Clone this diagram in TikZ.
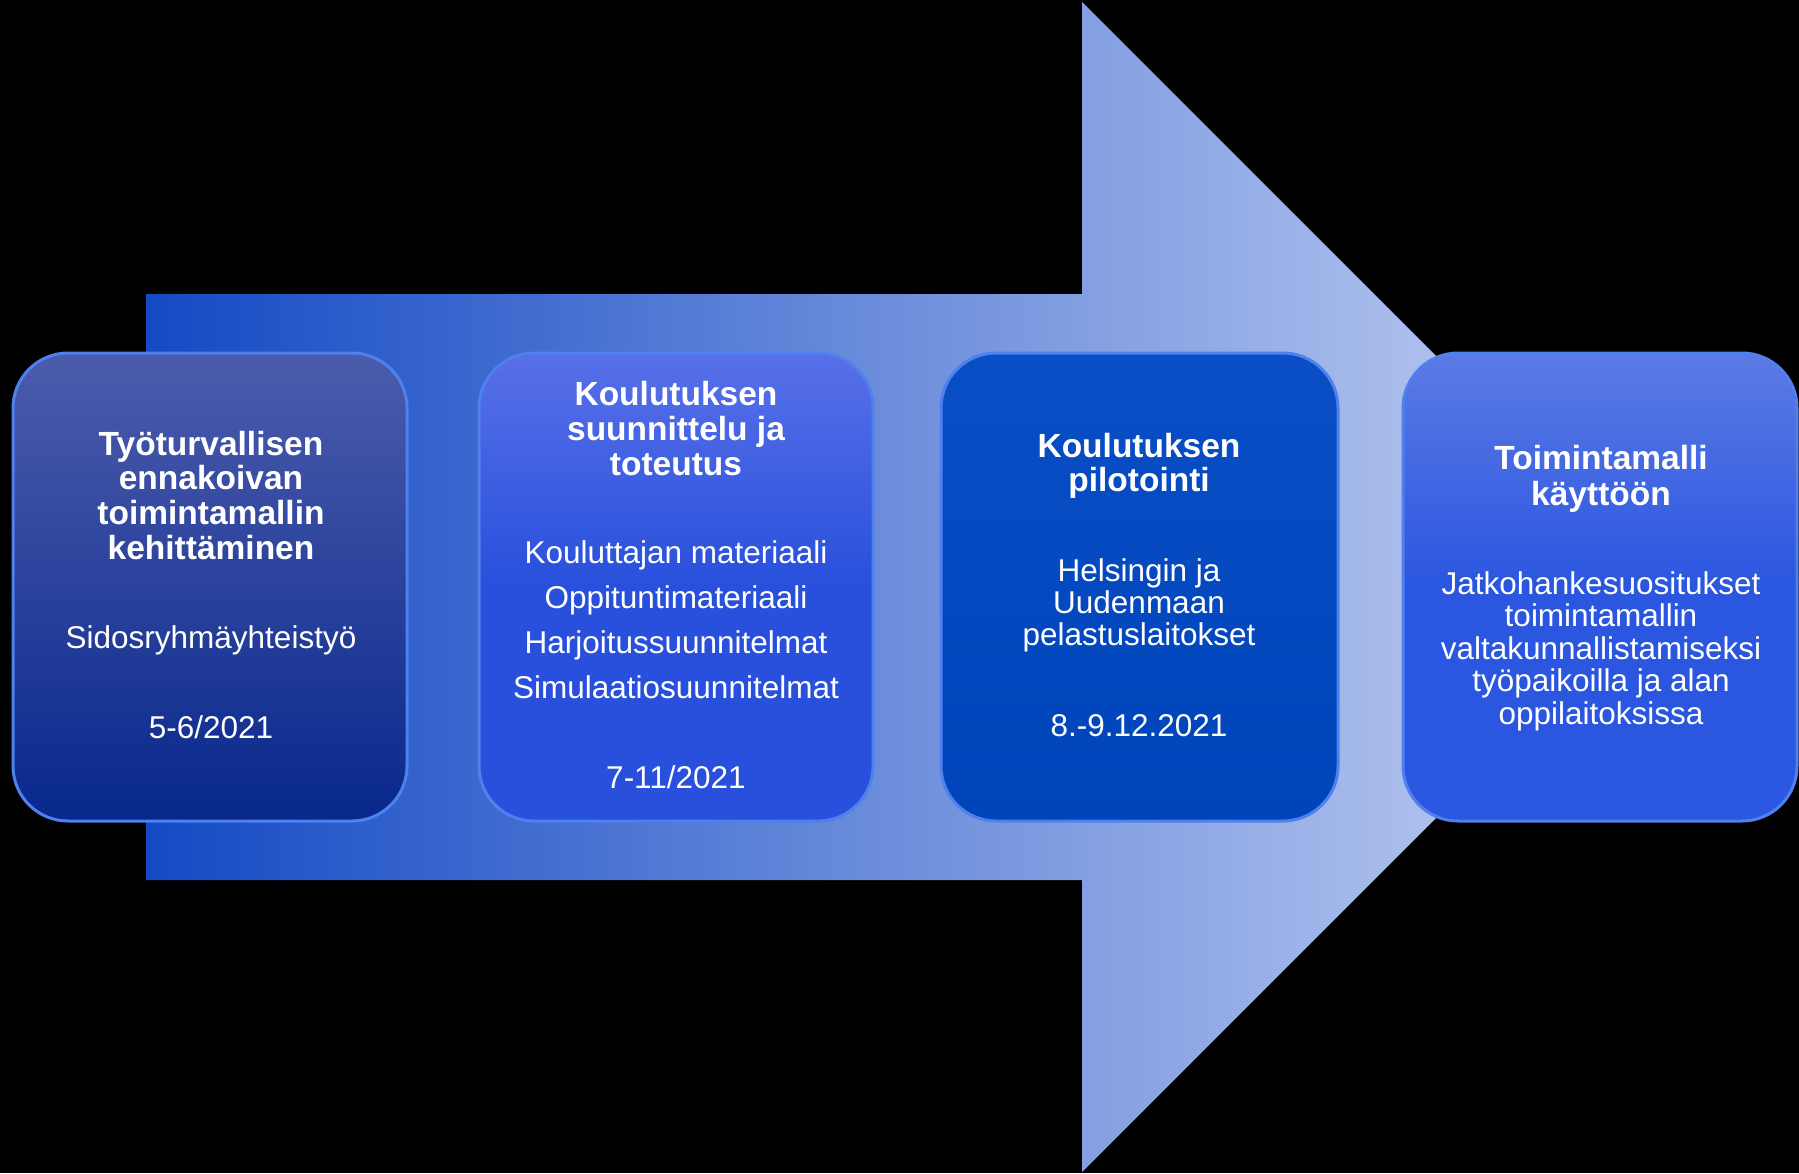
\documentclass[tikz,border=0pt]{standalone}
\usepackage{fontspec}
\setmainfont{Liberation Sans}
\definecolor{arrL}{RGB}{20,74,196}
\definecolor{arrR}{RGB}{200,212,244}
\definecolor{bA}{RGB}{76,92,172}
\definecolor{bAm}{RGB}{24,55,152}
\definecolor{bAb}{RGB}{8,40,140}
\definecolor{bB}{RGB}{88,112,232}
\definecolor{bBb}{RGB}{40,80,220}
\definecolor{bC}{RGB}{10,78,198}
\definecolor{bCb}{RGB}{0,68,186}
\definecolor{bD}{RGB}{92,122,228}
\definecolor{bDb}{RGB}{42,86,224}
\definecolor{rim}{RGB}{78,128,238}
\newcommand\lines[1]{\begin{tabular}[t]{@{}c@{}}#1\end{tabular}}
\begin{document}
\begin{tikzpicture}[x=1pt,y=-1pt,
  stagebox/.style={rounded corners=55pt, minimum width=394pt, minimum height=468pt,
    inner sep=0pt, draw=rim, line width=3pt},
  txt/.style={text=white, inner sep=0pt, anchor=base},
  ttlA/.style={txt, font=\fontsize{33.5}{34.7}\selectfont\bfseries},
  ttlB/.style={txt, font=\fontsize{33.5}{35}\selectfont\bfseries},
  ttlC/.style={txt, font=\fontsize{33.5}{33}\selectfont\bfseries},
  ttlD/.style={txt, font=\fontsize{33.5}{36}\selectfont\bfseries},
  body/.style={txt, font=\fontsize{31.5}{32}\selectfont},
  bodyB/.style={txt, font=\fontsize{31.5}{45}\selectfont}]
\useasboundingbox (0,0) rectangle (1799,1173);
\fill[black] (0,0) rectangle (1799,1173);
% big arrow
\shade[left color=arrL, right color=arrR]
  (146,294) -- (1082,294) -- (1082,2) -- (1667,587) -- (1082,1172) -- (1082,880) -- (146,880) -- cycle;
% stage boxes
\node[stagebox, top color=bA, middle color=bAm, bottom color=bAb] (b1) at (210,587) {};
\node[stagebox, top color=bB, bottom color=bBb, middle color=bBb] (b2) at (676,587) {};
\node[stagebox, top color=bC, bottom color=bCb, minimum width=397pt] (b3) at (1139.5,587) {};
\node[stagebox, top color=bD, bottom color=bDb, middle color=bDb] (b4) at (1600,587) {};
% box 1 text
\node[ttlA] (t1) at (211,455) {\lines{Työturvallisen\\ennakoivan\\toimintamallin\\kehittäminen}};
\node[body] (s1) at (211,648) {Sidosryhmäyhteistyö};
\node[body] (d1) at (211,738) {5-6/2021};
% box 2 text
\node[ttlB] (t2) at (676,405) {\lines{Koulutuksen\\suunnittelu ja\\toteutus}};
\node[bodyB] (s2) at (676,563) {\lines{Kouluttajan materiaali\\Oppituntimateriaali\\Harjoitussuunnitelmat\\Simulaatiosuunnitelmat}};
\node[body] (d2) at (676,788) {7-11/2021};
% box 3 text
\node[ttlC] (t3) at (1139,457.5) {\lines{Koulutuksen\\pilotointi}};
\node[body] (s3) at (1139,581) {\lines{Helsingin ja\\Uudenmaan\\pelastuslaitokset}};
\node[body] (d3) at (1139,736.5) {8.-9.12.2021};
% box 4 text
\node[ttlD] (t4) at (1601,469) {\lines{Toimintamalli\\käyttöön}};
\node[body] (s4) at (1601,594.5) {\lines{Jatkohankesuositukset\\toimintamallin\\valtakunnallistamiseksi\\työpaikoilla ja alan\\oppilaitoksissa}};
\end{tikzpicture}
\end{document}
